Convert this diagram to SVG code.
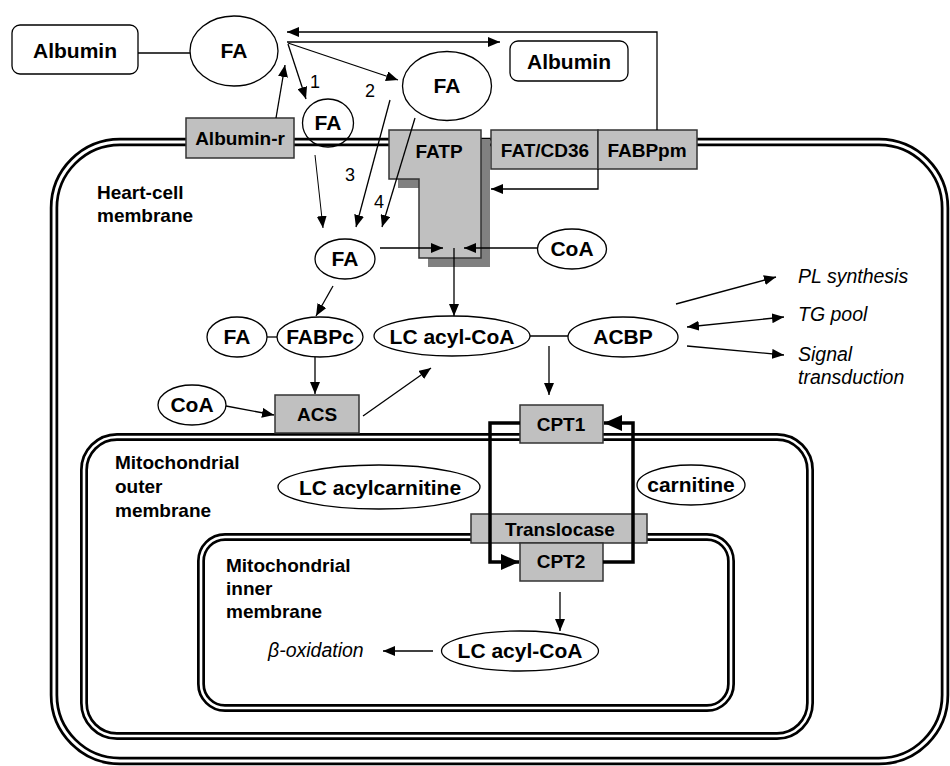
<svg xmlns="http://www.w3.org/2000/svg" width="950" height="766" viewBox="0 0 950 766">
<style>
text{font-family:"Liberation Sans",Arial,Helvetica,sans-serif;fill:#000}
.b{font-weight:bold;font-size:21px;text-anchor:middle}
.bx{font-weight:bold;font-size:19px;text-anchor:middle}
.lab{font-weight:bold;font-size:19px}
.it{font-style:italic;font-size:19.5px}
.num{font-size:18px}
.el{fill:#fff;stroke:#000;stroke-width:1.3}
.wb{fill:#fff;stroke:#000;stroke-width:1.3}
.gb{fill:#c0c0c0;stroke:#333;stroke-width:1.5}
.mo{fill:none;stroke:#000;stroke-width:8.5}
.mi{fill:none;stroke:#fff;stroke-width:3}
.c{fill:none;stroke:#000;stroke-width:1.3}
.ca{fill:none;stroke:#000;stroke-width:1.3;marker-end:url(#ah)}
.lp{fill:none;stroke:#000;stroke-width:3.5;marker-end:url(#big)}
</style>
<defs>
<marker id="ah" viewBox="0 0 12 10" refX="12" refY="5" markerWidth="12" markerHeight="10" markerUnits="userSpaceOnUse" orient="auto-start-reverse"><path d="M0,0 L12,5 L0,10 z" fill="#000"/></marker>
<marker id="big" viewBox="0 0 18 16" refX="18" refY="8" markerWidth="18" markerHeight="16" markerUnits="userSpaceOnUse" orient="auto"><path d="M0,0 L18,8 L0,16 z" fill="#000"/></marker>
</defs>
<rect width="950" height="766" fill="#fff"/>
<g id="membranes">
<rect class="mo" x="54" y="142" width="891" height="619" rx="66"/>
<rect class="mi" x="54" y="142" width="891" height="619" rx="66"/>
<rect class="mo" x="84" y="437" width="726" height="299" rx="33" style="stroke-width:8"/>
<rect class="mi" x="84" y="437" width="726" height="299" rx="33" style="stroke-width:2.6"/>
<rect class="mo" x="201" y="537" width="530" height="171" rx="24" style="stroke-width:8"/>
<rect class="mi" x="201" y="537" width="530" height="171" rx="24" style="stroke-width:2.6"/>
</g>
<g id="labels">
<text class="lab" x="97" y="199">Heart-cell</text>
<text class="lab" x="97" y="222">membrane</text>
<text class="lab" x="115" y="469">Mitochondrial</text>
<text class="lab" x="115" y="493">outer</text>
<text class="lab" x="115" y="517">membrane</text>
<text class="lab" x="226" y="572">Mitochondrial</text>
<text class="lab" x="226" y="595">inner</text>
<text class="lab" x="226" y="618">membrane</text>
<text class="num" x="310" y="88">1</text>
<text class="num" x="365" y="97">2</text>
<text class="num" x="345" y="181">3</text>
<text class="num" x="374" y="208">4</text>
<text class="it" x="798" y="283">PL synthesis</text>
<text class="it" x="798" y="321">TG pool</text>
<text class="it" x="798" y="361">Signal</text>
<text class="it" x="798" y="384">transduction</text>
<text class="it" x="268" y="657">β-oxidation</text>
</g>
<g id="albumin1"><rect class="wb" x="12" y="25" width="126" height="49" rx="8"/><text class="b" x="75" y="58">Albumin</text></g>
<g id="fa-top"><ellipse class="el" cx="234" cy="51" rx="44" ry="35"/><text class="b" x="234" y="58">FA</text></g>
<g id="albumin2"><rect class="wb" x="510" y="41" width="118" height="40" rx="8"/><text class="b" x="569" y="69">Albumin</text></g>
<g id="fa-right"><ellipse class="el" cx="447" cy="86" rx="44.5" ry="34.5"/><text class="b" x="447" y="93">FA</text></g>
<g id="fa-small"><ellipse cx="328" cy="123" rx="25.5" ry="24" style="fill:none;stroke:#000;stroke-width:1.3"/><text class="b" x="328" y="130">FA</text></g>
<g id="albumin-r"><rect class="gb" x="186" y="118" width="108" height="40"/><text class="bx" x="240" y="145">Albumin-r</text></g>
<g id="fatp">
<polygon points="398,139 490,139 490,267 428,267 428,188 398,188" fill="#808080"/>
<polygon class="gb" points="389,130 481,130 481,258 419,258 419,179 389,179"/>
<text class="bx" x="439" y="158">FATP</text>
</g>
<g id="fatcd36"><rect class="gb" x="491" y="130" width="107" height="39"/><text class="bx" x="545" y="157">FAT/CD36</text></g>
<g id="fabppm"><rect class="gb" x="598" y="130" width="99" height="39"/><text class="bx" x="647" y="157">FABPpm</text></g>
<g id="fa-mid"><ellipse class="el" cx="345" cy="259" rx="30" ry="20"/><text class="b" x="345" y="266">FA</text></g>
<g id="coa-right"><ellipse class="el" cx="572" cy="249" rx="34.5" ry="20"/><text class="b" x="572" y="256">CoA</text></g>
<g id="fa-left"><ellipse class="el" cx="237" cy="337" rx="30" ry="20"/><text class="b" x="237" y="344">FA</text></g>
<g id="fabpc"><ellipse class="el" cx="320" cy="337" rx="43" ry="20"/><text class="b" x="320" y="344">FABPc</text></g>
<g id="lcacylcoa1"><ellipse class="el" cx="452" cy="336" rx="78" ry="20"/><text class="b" x="452" y="344">LC acyl-CoA</text></g>
<g id="acbp"><ellipse class="el" cx="623" cy="337" rx="55" ry="20"/><text class="b" x="623" y="344">ACBP</text></g>
<g id="coa-left"><ellipse class="el" cx="192" cy="405" rx="34" ry="20"/><text class="b" x="192" y="412">CoA</text></g>
<g id="acs"><rect class="gb" x="275" y="395" width="84" height="38"/><text class="bx" x="317" y="421">ACS</text></g>
<g id="cpt1"><rect class="gb" x="520" y="405" width="83" height="38"/><text class="bx" x="561" y="431">CPT1</text></g>
<g id="lcacylcarnitine"><ellipse class="el" cx="379" cy="487" rx="101" ry="22"/><text class="b" x="380" y="495">LC acylcarnitine</text></g>
<g id="carnitine"><ellipse class="el" cx="691" cy="485" rx="54" ry="20"/><text class="b" x="691" y="492">carnitine</text></g>
<g id="translocase"><rect class="gb" x="471" y="514" width="176" height="29"/><text class="bx" x="560" y="536">Translocase</text></g>
<g id="cpt2"><rect class="gb" x="520" y="543" width="83" height="38"/><text class="bx" x="561" y="568">CPT2</text></g>
<g id="lcacylcoa2"><ellipse class="el" cx="520" cy="651" rx="78.5" ry="20"/><text class="b" x="520" y="658">LC acyl-CoA</text></g>
<g id="connectors">
<line class="c" x1="138" y1="53" x2="190" y2="53"/>
<polyline class="ca" points="657,130 657,32 287,32"/>
<line class="ca" x1="287" y1="42" x2="500" y2="42"/>
<line class="ca" x1="288" y1="43" x2="398" y2="80"/>
<line class="ca" x1="288" y1="44" x2="306" y2="99"/>
<line class="ca" x1="276" y1="118" x2="285" y2="65"/>
<line class="ca" x1="315" y1="155" x2="323" y2="228" style="stroke-width:1"/>
<line class="ca" x1="390" y1="100" x2="356" y2="227"/>
<line class="ca" x1="415" y1="118" x2="382" y2="227"/>
<line class="ca" x1="380" y1="248" x2="443" y2="248"/>
<line class="ca" x1="537" y1="248" x2="464" y2="248"/>
<line class="ca" x1="454" y1="248" x2="454" y2="316"/>
<polyline class="ca" points="598,169 598,189 491,189"/>
<line class="ca" x1="333" y1="286" x2="316" y2="316"/>
<line class="c" x1="267" y1="337" x2="277" y2="337"/>
<line class="ca" x1="315" y1="357" x2="315" y2="394"/>
<line class="ca" x1="226" y1="406" x2="274" y2="415"/>
<line class="ca" x1="363" y1="416" x2="431" y2="368"/>
<line class="c" x1="530" y1="336" x2="568" y2="336"/>
<line class="ca" x1="549" y1="346" x2="549" y2="395"/>
<line class="ca" x1="676" y1="304" x2="776" y2="277"/>
<line class="ca" x1="687" y1="327" x2="784" y2="317" style="marker-start:url(#ah)"/>
<line class="ca" x1="687" y1="346" x2="784" y2="355"/>
<polyline class="lp" points="520,423 490,423 490,562 519,562"/>
<polyline class="lp" points="603,562 633,562 633,423 604,423"/>
<line class="ca" x1="560" y1="592" x2="560" y2="631"/>
<line class="ca" x1="433" y1="651" x2="383" y2="651"/>
</g>
</svg>
